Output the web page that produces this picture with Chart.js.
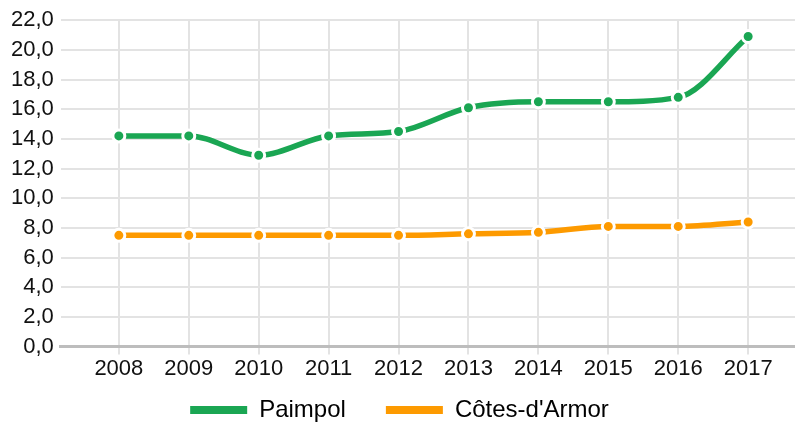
<!DOCTYPE html>
<html>
<head>
<meta charset="utf-8">
<script src="https://cdn.jsdelivr.net/npm/chart.js@4/dist/chart.umd.min.js"></script>
<style>
html,body{margin:0;padding:0;background:#fff;}
#wrap{width:795px;height:422px;}
</style>
</head>
<body>
<div id="wrap"><canvas id="c" width="795" height="422"></canvas></div>
<script>
const years = [2008, 2009, 2010, 2011, 2012, 2013, 2014, 2015, 2016, 2017];
const paimpol = [14.2, 14.2, 12.9, 14.2, 14.5, 16.1, 16.5, 16.5, 16.8, 20.9];
const cotesArmor = [7.5, 7.5, 7.5, 7.5, 7.5, 7.6, 7.7, 8.1, 8.1, 8.4];
const seriesNames = ['Paimpol', "Côtes-d'Armor"];
const yTicks = [0, 2, 4, 6, 8, 10, 12, 14, 16, 18, 20, 22];

const GREEN = '#1aa653';
const ORANGE = '#fd9a00';
const FONT = "'Liberation Sans', Arial, sans-serif";
const TXT = '#111111';
const LEGEND_PAD = 40;

function pts(arr){ return years.map((y,i)=>({x:y, y:arr[i]})); }
function ds(label, arr, color){
  return {
    label: label,
    data: pts(arr),
    borderColor: color,
    backgroundColor: color,
    borderWidth: 5.5,
    cubicInterpolationMode: 'monotone',
    pointRadius: 6,
    pointHoverRadius: 6,
    pointBackgroundColor: color,
    pointBorderColor: '#ffffff',
    pointBorderWidth: 3,
    fill: false,
    clip: false
  };
}

const legendShift = {
  id: 'legendShift',
  afterLayout(chart) {
    const lg = chart.legend;
    if (lg) { const s = LEGEND_PAD - 18; lg.top -= s; lg.bottom -= s; }
  }
};

new Chart(document.getElementById('c'), {
  type: 'line',
  data: { datasets: [ds(seriesNames[0], paimpol, GREEN), ds(seriesNames[1], cotesArmor, ORANGE)] },
  plugins: [legendShift],
  options: {
    responsive: false,
    animation: false,
    devicePixelRatio: 1,
    layout: { autoPadding: false, padding: { top: 13, left: 4, right: 0, bottom: -32 } },
    plugins: {
      tooltip: { enabled: false },
      legend: {
        position: 'bottom',
        labels: {
          boxWidth: 57,
          boxHeight: 8,
          padding: LEGEND_PAD,
          color: TXT,
          font: { family: FONT, size: 24 },
          generateLabels: (chart) => chart.data.datasets.map((d,i)=>({
            text: d.label, fillStyle: d.borderColor, strokeStyle: d.borderColor,
            lineWidth: 0, hidden: false, datasetIndex: i
          }))
        }
      }
    },
    scales: {
      x: {
        type: 'linear',
        min: 2007.17,
        max: 2017.67,
        afterBuildTicks: (scale) => { scale.ticks = years.map(v=>({value:v})); },
        afterFit: (scale) => { scale.paddingLeft = 0; scale.paddingRight = 0; scale.height -= 3; },
        ticks: {
          stepSize: 1,
          includeBounds: false,
          color: TXT,
          font: { family: FONT, size: 22 },
          padding: 1,
          maxRotation: 0,
          callback: (v) => String(v)
        },
        grid: { color: '#e3e3e3', lineWidth: 2, tickLength: 8, drawTicks: true },
        border: { display: true, color: '#bdbdbd', width: 3 }
      },
      y: {
        min: 0,
        max: 22,
        afterBuildTicks: (scale) => { scale.ticks = yTicks.map(v=>({value:v})); },
        ticks: {
          stepSize: 2,
          color: TXT,
          font: { family: FONT, size: 22 },
          padding: 7,
          callback: (v) => v.toFixed(1).replace('.', ',')
        },
        grid: { color: '#e3e3e3', lineWidth: 2, tickLength: 0, drawTicks: false },
        border: { display: false }
      }
    }
  }
});
</script>
</body>
</html>
